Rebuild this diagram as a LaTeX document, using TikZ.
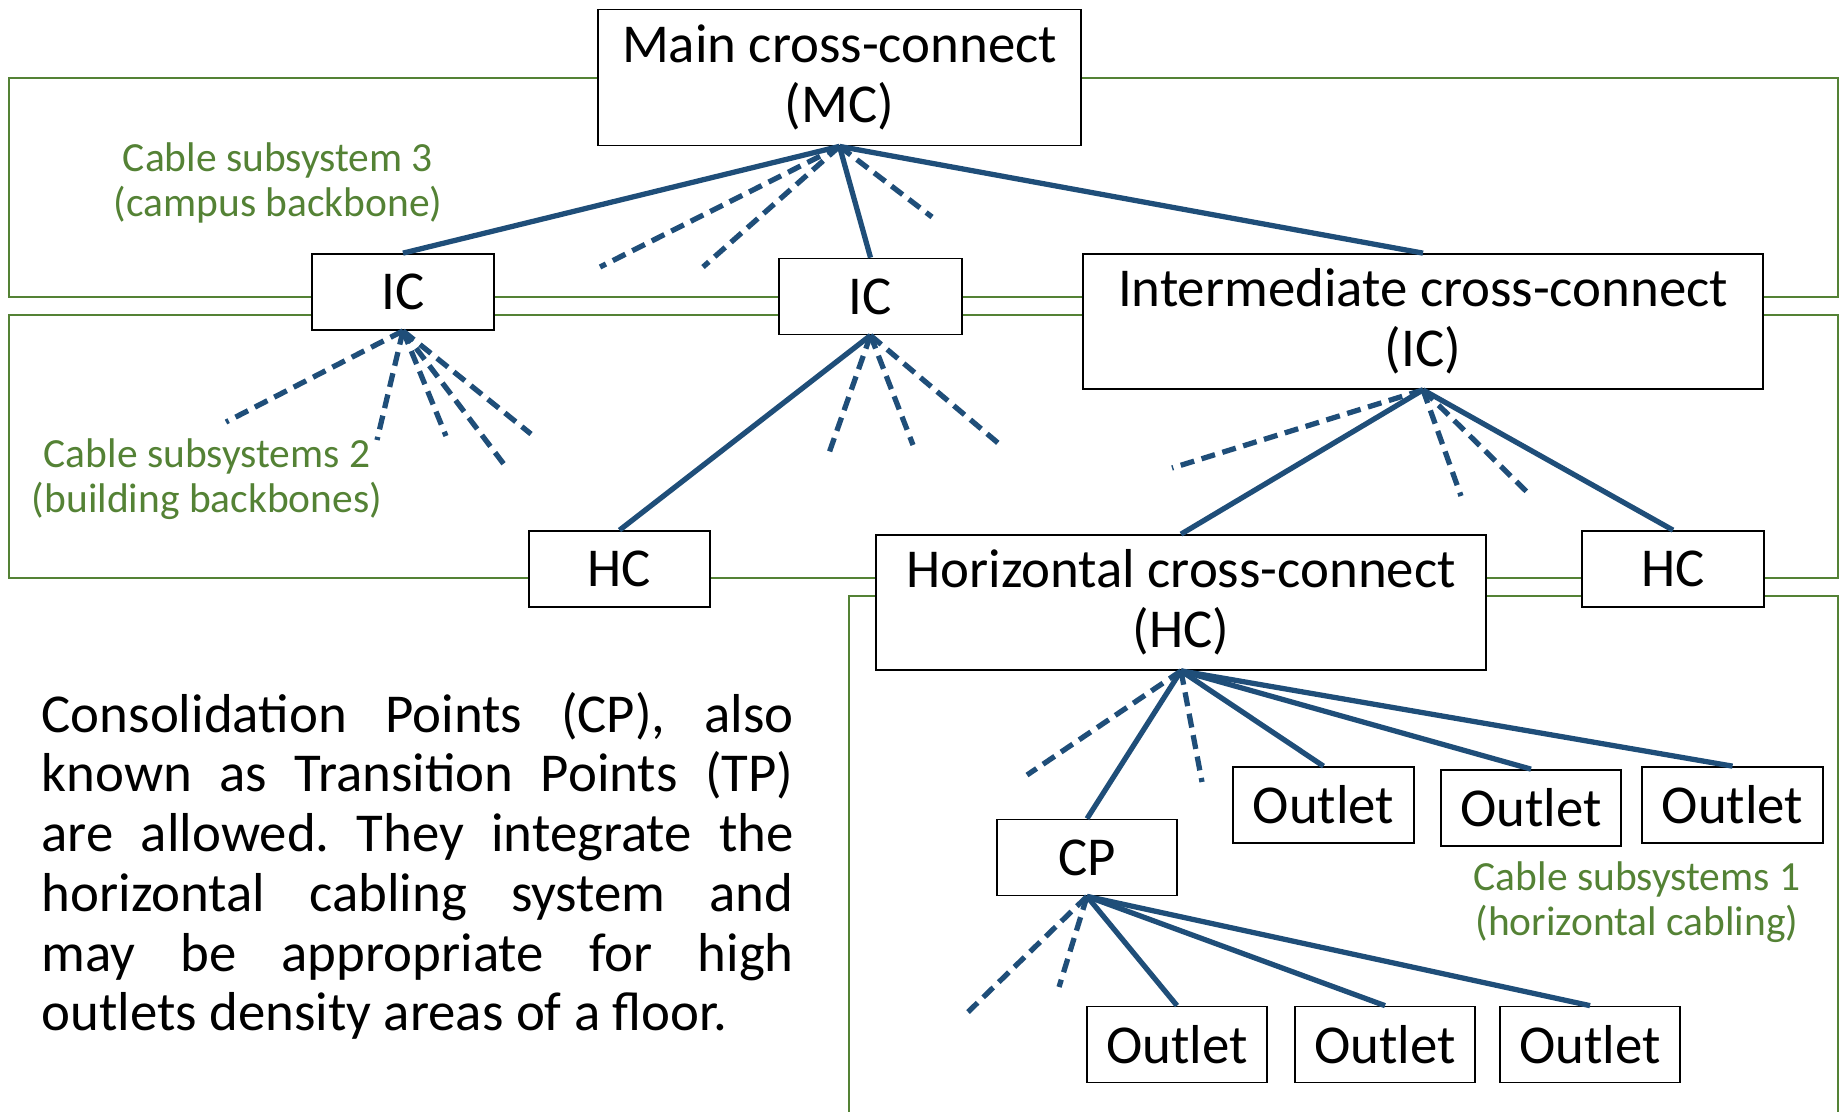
\documentclass[tikz,border=0pt]{standalone}
\usepackage{fontspec}
\setmainfont{Carlito}
\definecolor{cableblue}{HTML}{1F4E79}
\definecolor{zonegreen}{HTML}{548235}
\frenchspacing

\begin{document}
\begin{tikzpicture}[
        box/.style={draw=black,line width=0.5pt,fill=white,inner sep=0pt,align=center,
            font=\fontsize{15.6}{17}\selectfont},
        smallbox/.style={box,minimum width=1.81cm,minimum height=0.76cm},
        bigbox/.style={box,minimum height=1.35cm},
        cable/.style={cableblue,line width=1.5pt},
        spare/.style={cableblue,line width=1.5pt,dash pattern=on 4pt off 2.2pt},
        zone/.style={zonegreen,line width=0.45pt},
        zonelabel/.style={zonegreen,align=center,inner sep=0pt,
            font=\fontsize{11.8}{13}\selectfont}
    ]
        \useasboundingbox (0,0) rectangle (18.43,-11.11);
        %% cable subsystem areas
        \draw[zone] (0.09,-0.78) rectangle (18.38,-2.97);
        \draw[zone] (0.09,-3.15) rectangle (18.38,-5.78);
        \draw[zone] (8.49,-11.3) -- (8.49,-5.96) -- (18.38,-5.96) -- (18.38,-11.3);
        \node[zonelabel] (zone3) at (2.78,-1.83) {Cable subsystem 3\\(campus backbone)};
        \node[zonelabel] (zone2) at (2.07,-4.79) {Cable subsystems 2\\(building backbones)};
        \node[zonelabel] (zone1) at (16.37,-9.02) {Cable subsystems 1\\(horizontal cabling)};
        %% cross-connects
        \node[bigbox,minimum width=4.83cm,minimum height=1.36cm] (mc) at (8.395,-0.775) {Main cross-connect\\(MC)};
        \node[smallbox,minimum width=1.82cm] (ica) at (4.03,-2.92) {IC};
        \node[smallbox,minimum width=1.83cm] (icb) at (8.705,-2.965) {IC};
        \node[bigbox,minimum width=6.80cm] (ic) at (14.23,-3.215) {Intermediate cross-connect\\(IC)};
        \node[smallbox] (hca) at (6.195,-5.69) {HC};
        \node[bigbox,minimum width=6.10cm] (hc) at (11.81,-6.025) {Horizontal cross-connect\\(HC)};
        \node[smallbox,minimum width=1.82cm] (hcb) at (16.73,-5.69) {HC};
        %% consolidation point and outlets
        \node[smallbox,minimum width=1.80cm] (cp) at (10.87,-8.575) {CP};
        \node[smallbox] (outa) at (13.235,-8.05) {Outlet};
        \node[smallbox,minimum width=1.80cm] (outb) at (15.31,-8.08) {Outlet};
        \node[smallbox] (outc) at (17.325,-8.05) {Outlet};
        \node[smallbox,minimum width=1.80cm] (outd) at (11.77,-10.445) {Outlet};
        \node[smallbox,minimum width=1.80cm] (oute) at (13.85,-10.445) {Outlet};
        \node[smallbox,minimum width=1.80cm] (outf) at (15.90,-10.445) {Outlet};
        %% cables
        \draw[cable] (mc.south) -- (ica.north);
        \draw[cable] (mc.south) -- (icb.north);
        \draw[cable] (mc.south) -- (ic.north);
        \draw[cable] (icb.south) -- (hca.north);
        \draw[cable] (ic.south) -- (hc.north);
        \draw[cable] (ic.south) -- (hcb.north);
        \foreach \n in {cp,outa,outb,outc}
            \draw[cable] (hc.south) -- (\n.north);
        \foreach \n in {outd,oute,outf}
            \draw[cable] (cp.south) -- (\n.north);
        %% spare cables, open ends
        \foreach \x/\y [count=\i] in {6.00/-2.67,7.03/-2.67,9.32/-2.17}
            {\coordinate (mcend\i) at (\x,\y); \draw[spare] (mc.south) -- (mcend\i);}
        \foreach \x/\y [count=\i] in {2.26/-4.22,3.77/-4.40,4.46/-4.36,5.06/-4.67,5.31/-4.34}
            {\coordinate (icaend\i) at (\x,\y); \draw[spare] (ica.south) -- (icaend\i);}
        \foreach \x/\y [count=\i] in {8.29/-4.53,9.13/-4.45,9.98/-4.43}
            {\coordinate (icbend\i) at (\x,\y); \draw[spare] (icb.south) -- (icbend\i);}
        \foreach \x/\y [count=\i] in {11.72/-4.68,14.61/-4.96,15.27/-4.92}
            {\coordinate (icend\i) at (\x,\y); \draw[spare] (ic.south) -- (icend\i);}
        \foreach \x/\y [count=\i] in {10.27/-7.75,12.02/-7.82}
            {\coordinate (hcend\i) at (\x,\y); \draw[spare] (hc.south) -- (hcend\i);}
        \foreach \x/\y [count=\i] in {9.68/-10.12,10.59/-9.87}
            {\coordinate (cpend\i) at (\x,\y); \draw[spare] (cp.south) -- (cpend\i);}
        %% note
        \node[anchor=base west,inner sep=0pt,text width=7.52cm,align=justify,
            font=\fontsize{15.6}{17}\selectfont] (note) at (0.41,-7.32)
            {Consolidation Points (CP), also\linebreak
            known as Transition Points (TP)\linebreak
            are allowed. They integrate the\linebreak
            horizontal cabling system and\linebreak
            may be appropriate for high\linebreak
            outlets density areas of a floor.};
    \end{tikzpicture}
\end{document}
